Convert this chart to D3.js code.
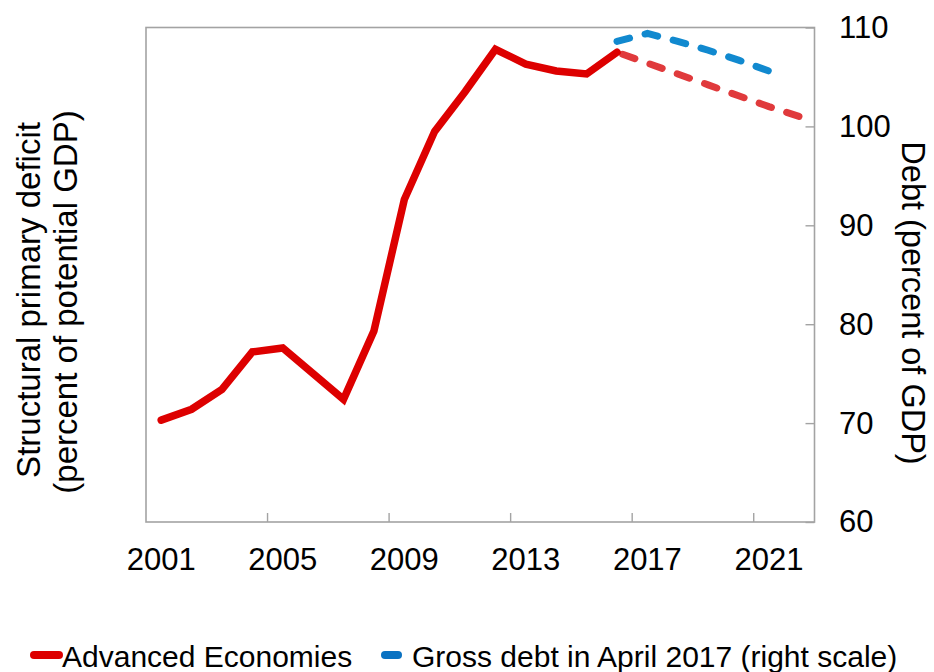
<!DOCTYPE html>
<html>
<head>
<meta charset="utf-8">
<script src="https://cdn.jsdelivr.net/npm/d3@7"></script>
<style>
  body { margin: 0; background: #fff; }
  svg { display: block; font-family: "Liberation Sans", Arial, sans-serif; }
</style>
</head>
<body>
<svg id="chart" width="934" height="672"></svg>
<script>
// ---- Data ----
const years = [2001,2002,2003,2004,2005,2006,2007,2008,2009,2010,2011,2012,2013,2014,2015,2016,2017,2018,2019,2020,2021,2022];
const actualYears = [2001,2002,2003,2004,2005,2006,2007,2008,2009,2010,2011,2012,2013,2014,2015,2016];
const actualDebt = [70.3,71.4,73.4,77.2,77.6,75.0,72.4,79.3,92.6,99.5,103.5,107.8,106.3,105.6,105.3,107.5];
const projYears = [2016,2017,2018,2019,2020,2021,2022];
const projDebt = [107.5,106.4,105.3,104.2,103.1,102.0,101.0];
const april2017Years = [2016,2017,2018,2019,2020,2021];
const april2017Debt = [108.6,109.4,108.6,107.7,106.7,105.6];
const xTickLabels = [2001,2005,2009,2013,2017,2021];
const xTickMarks = [2005,2009,2013,2017,2021];
const yTicks = [60,70,80,90,100,110];
const legendLabels = ["Advanced Economies","Gross debt in April 2017 (right scale)"];

// ---- Layout ----
const svg = d3.select("#chart");
const L = 146, R = 814.5, T = 27.5, B = 522;
const x = d3.scaleBand().domain(years).range([L, R]).padding(0);
const y = d3.scaleLinear().domain([60, 110]).range([B, T]);
const cx = d => x(d) + x.bandwidth() / 2;

const red = "#dd0000", redProj = "#e03a3c", blue = "#1189cf", frame = "#a3a3a3";
const FONT = "'Liberation Sans', Arial, sans-serif";

// frame
svg.append("rect").attr("x", L).attr("y", T).attr("width", R - L).attr("height", B - T)
  .attr("fill", "none").attr("stroke", frame).attr("stroke-width", 1.6);

// right axis
const yAxis = d3.axisRight(y).tickValues(yTicks).tickSizeInner(-9).tickSizeOuter(0).tickPadding(24.5);
const gy = svg.append("g").attr("transform", `translate(${R},0)`).call(yAxis);
gy.select(".domain").remove();
gy.selectAll(".tick line").attr("stroke", frame).attr("stroke-width", 1.4);
gy.selectAll(".tick text").attr("font-size", 31).attr("fill", "#000").attr("font-family", FONT);

// bottom axis labels
const xAxis = d3.axisBottom(x).tickValues(xTickLabels).tickSize(0).tickPadding(26);
const gx = svg.append("g").attr("transform", `translate(0,${B})`).call(xAxis);
gx.select(".domain").remove();
gx.selectAll(".tick text").attr("font-size", 31).attr("fill", "#000").attr("font-family", FONT);

// bottom tick marks at category boundaries
svg.append("g").selectAll("line").data(xTickMarks).join("line")
  .attr("x1", d => x(d)).attr("x2", d => x(d))
  .attr("y1", B).attr("y2", B - 9)
  .attr("stroke", frame).attr("stroke-width", 1.4);

// lines
const line = d3.line().x(d => cx(d[0])).y(d => y(d[1]));

svg.append("path").datum(projYears.map((yr, i) => [yr, projDebt[i]]))
  .attr("d", line).attr("fill", "none").attr("stroke", redProj)
  .attr("stroke-width", 7).attr("stroke-linecap", "round").attr("stroke-dasharray", "13,16")
  .attr("stroke-dashoffset", -6);

svg.append("path").datum(april2017Years.map((yr, i) => [yr, april2017Debt[i]]))
  .attr("d", line).attr("fill", "none").attr("stroke", blue)
  .attr("stroke-width", 7).attr("stroke-linecap", "round").attr("stroke-dasharray", "13,16");

svg.append("path").datum(actualYears.map((yr, i) => [yr, actualDebt[i]]))
  .attr("d", line).attr("fill", "none").attr("stroke", red)
  .attr("stroke-width", 7.5).attr("stroke-linejoin", "miter").attr("stroke-linecap", "round");

// axis titles
svg.append("text").attr("transform", "translate(40,300) rotate(-90)")
  .attr("text-anchor", "middle").attr("font-size", 33).attr("fill", "#000")
  .text("Structural primary deficit");
svg.append("text").attr("transform", "translate(77,302) rotate(-90)")
  .attr("text-anchor", "middle").attr("font-size", 33).attr("fill", "#000")
  .text("(percent of potential GDP)");
svg.append("text").attr("transform", "translate(902,303) rotate(90)")
  .attr("text-anchor", "middle").attr("font-size", 32.5).attr("fill", "#000")
  .text("Debt (percent of GDP)");

// legend
const lg = svg.append("g");
lg.append("line").attr("x1", 34).attr("x2", 59).attr("y1", 655).attr("y2", 655)
  .attr("stroke", red).attr("stroke-width", 8).attr("stroke-linecap", "round");
lg.append("text").attr("x", 62).attr("y", 667).attr("font-size", 30).attr("fill", "#000").text(legendLabels[0]);
lg.append("line").attr("x1", 385).attr("x2", 398).attr("y1", 655).attr("y2", 655)
  .attr("stroke", "#0a72c2").attr("stroke-width", 8).attr("stroke-linecap", "round");
lg.append("text").attr("x", 412).attr("y", 667).attr("font-size", 30).attr("fill", "#000").text(legendLabels[1]);
</script>
</body>
</html>
